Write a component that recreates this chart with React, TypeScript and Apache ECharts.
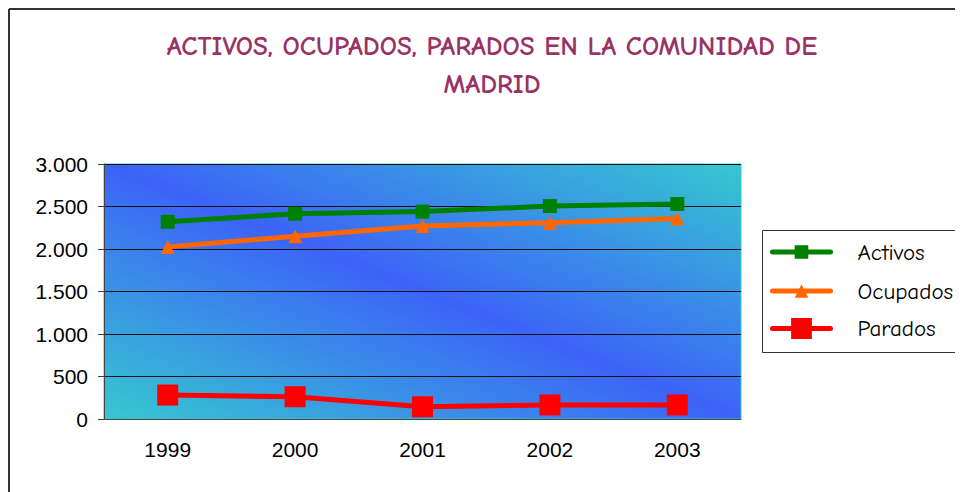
import React, { useEffect, useRef } from "react";
import * as echarts from "echarts";

const years = ["1999", "2000", "2001", "2002", "2003"];
const activos = [2320, 2415, 2440, 2505, 2530];
const ocupados = [2025, 2150, 2270, 2310, 2360];
const parados = [282, 262, 144, 165, 165];
const seriesNames = ["Activos", "Ocupados", "Parados"];
const titleText = "ACTIVOS, OCUPADOS, PARADOS EN LA COMUNIDAD DE\nMADRID";

const comic = "'Comic Sans MS', 'Comic Neue', 'DejaVu Sans', sans-serif";
const arial = "'Liberation Sans', Arial, sans-serif";

export default function App() {
  const ref = useRef<HTMLDivElement>(null);
  useEffect(() => {
    if (!ref.current) return;
    const chart = echarts.init(ref.current, null, { renderer: "svg" });
    const colors = ["#008000", "#FF6600", "#FF0000"];
    const legendBase = (name: string, top: number, itemHeight: number) => ({
      data: [name],
      left: 762,
      top,
      orient: "vertical",
      padding: 0,
      itemWidth: 58,
      itemHeight,
      selectedMode: false,
      textStyle: { fontFamily: comic, fontSize: 23, color: "#000", padding: [0, 0, 0, 22] },
      lineStyle: { width: 5, cap: "round" },
    });
    chart.setOption({
      animation: false,
      title: {
        text: titleText,
        left: 484,
        top: 19,
        padding: 0,
        textAlign: "center",
        textStyle: {
          fontFamily: comic,
          fontSize: 27,
          fontWeight: "bold",
          color: "#993366",
          lineHeight: 38,
        },
      },
      legend: [
        legendBase(seriesNames[0], 241 - 8.5, 17),
        legendBase(seriesNames[1], 280 - 8.5, 17),
        legendBase(seriesNames[2], 322 - 13, 26),
      ],
      grid: {
        left: 96,
        top: 156,
        width: 637,
        height: 255,
        show: true,
        borderColor: "#33CCCC",
        borderWidth: 1,
        backgroundColor: new echarts.graphic.LinearGradient(0, 1, 1, 0, [
          { offset: 0, color: "#36C8D0" },
          { offset: 0.5, color: "#3C63F8" },
          { offset: 1, color: "#36C8D0" },
        ]),
      },
      xAxis: {
        type: "category",
        data: years,
        boundaryGap: true,
        axisLine: { lineStyle: { color: "#444", width: 1 } },
        axisTick: { length: 6, lineStyle: { color: "#444" } },
        axisLabel: { fontFamily: arial, fontSize: 21, color: "#000", margin: 20 },
      },
      yAxis: {
        type: "value",
        min: 0,
        max: 3000,
        interval: 500,
        axisLine: { show: true, lineStyle: { color: "#444", width: 1 } },
        axisTick: { show: true, length: 6, lineStyle: { color: "#444" } },
        splitLine: { lineStyle: { color: "#111", width: 1 } },
        axisLabel: {
          fontFamily: arial,
          fontSize: 21,
          color: "#000",
          margin: 16,
          formatter: (v: number) => v.toLocaleString("de-DE"),
        },
      },
      series: [
        {
          name: seriesNames[0],
          type: "line",
          data: activos,
          symbol: "rect",
          symbolSize: 14,
          color: colors[0],
          lineStyle: { width: 5, color: colors[0] },
          itemStyle: { color: colors[0] },
        },
        {
          name: seriesNames[1],
          type: "line",
          data: ocupados,
          symbol: "triangle",
          symbolSize: 14,
          color: colors[1],
          lineStyle: { width: 5, color: colors[1] },
          itemStyle: { color: colors[1] },
        },
        {
          name: seriesNames[2],
          type: "line",
          data: parados,
          symbol: "rect",
          symbolSize: 21,
          color: colors[2],
          lineStyle: { width: 5, color: colors[2] },
          itemStyle: { color: colors[2] },
        },
      ],
      graphic: [
        { type: "line", shape: { x1: 1, y1: 1, x2: 1, y2: 500 }, style: { stroke: "#333", lineWidth: 2 } },
        { type: "line", shape: { x1: 1, y1: 1, x2: 1000, y2: 1 }, style: { stroke: "#333", lineWidth: 2 } },
        {
          type: "rect",
          shape: { x: 754.5, y: 222.5, width: 260, height: 122 },
          style: { fill: "none", stroke: "#333", lineWidth: 1 },
          z: 10,
        },
      ],
    });
    return () => chart.dispose();
  }, []);
  return <div ref={ref} style={{ width: 955, height: 484 }} />;
}
